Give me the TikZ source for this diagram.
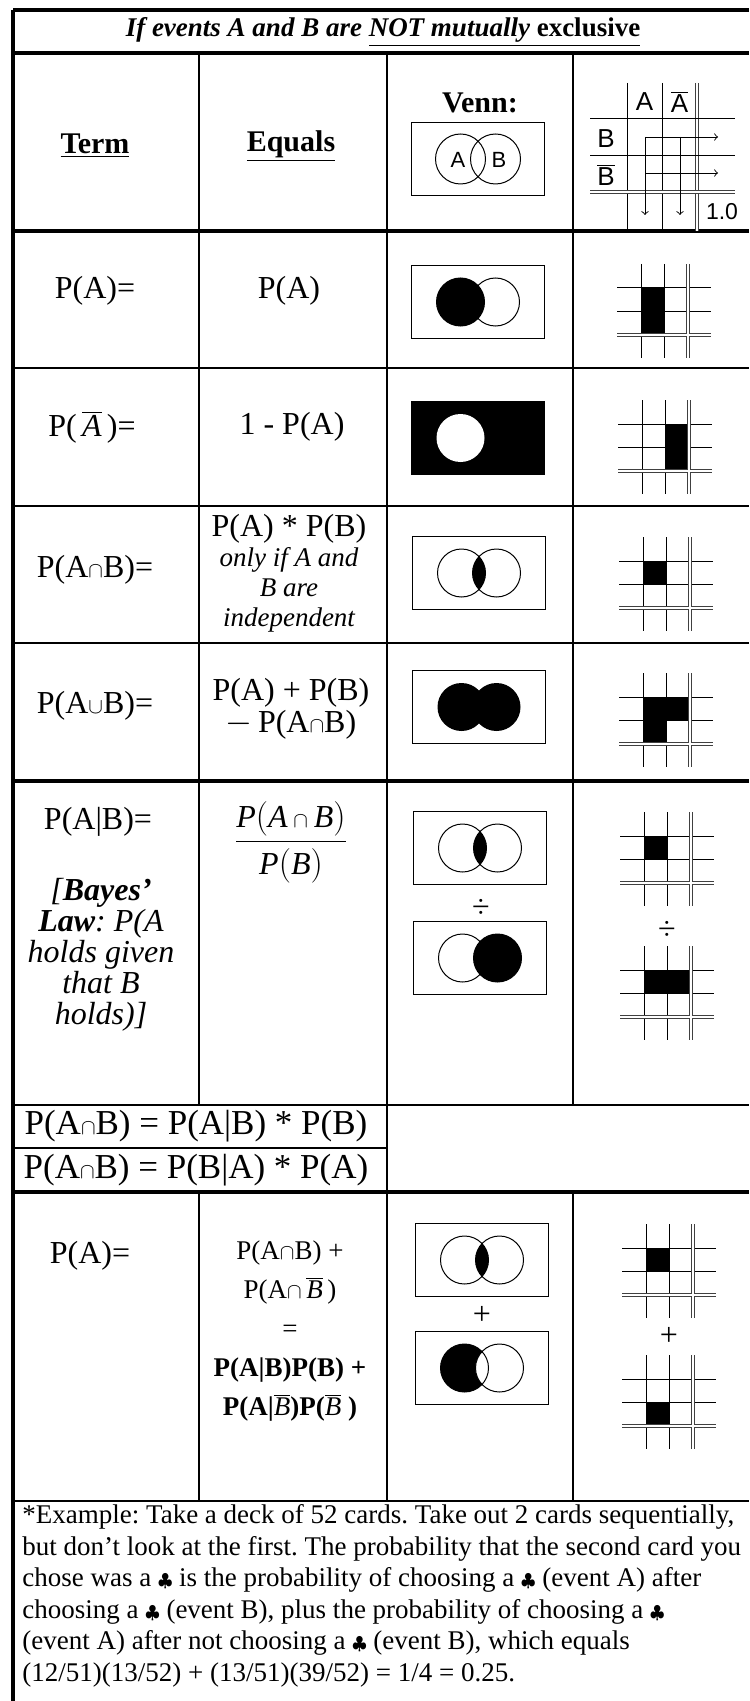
\documentclass[tikz,border=0pt]{standalone}
\usepackage{fontspec}
\setmainfont{Liberation Serif}
\newfontfamily\gridfont{Liberation Sans}
\usetikzlibrary{positioning}
\newcommand{\isect}{{\fontsize{11}{11}\selectfont$\cap$}}
\newcommand{\union}{{\fontsize{11}{11}\selectfont$\cup$}}

\begin{document}
\frenchspacing
\begin{tikzpicture}[
    x=0.5pt, y=-0.5pt,
    txt/.style={align=center, inner sep=0pt, font=\fontsize{16}{16}\selectfont},
    note/.style={align=center, inner sep=0pt, font=\fontsize{13.5}{15}\selectfont\itshape},
    head/.style={inner sep=0pt, font=\fontsize{15}{18}\selectfont\bfseries},
    lbl/.style={inner sep=0pt, font=\fontsize{13}{13}\gridfont},
    rule/.style={line width=0.6pt},
    heavy/.style={line width=1.6pt},
    venn/.style={draw, line width=0.5pt},
    gline/.style={line width=0.5pt},
    dline/.style={draw=black!75, line width=0.45pt, double, double distance=0.7pt},
    sumarrow/.style={->, line width=0.45pt}
]
\useasboundingbox (0,0) rectangle (749,1701);

% Table rules
\draw[heavy] (13,10) -- (749,10);
\draw[heavy] (13,53) -- (749,53);
\draw[heavy] (13,231) -- (749,231);
\foreach \h in {368,506,643,1105,1501}
    \draw[rule] (13,\h) -- (749,\h);
\draw[heavy] (13,781) -- (749,781);
\draw[rule] (13,1148) -- (387,1148);
\draw[heavy] (13,1192) -- (749,1192);
\draw[line width=2pt] (13,10) -- (13,1701);
\foreach \v in {199,387,573} {
    \draw[rule] (\v,53) -- (\v,1105);
    \draw[rule] (\v,1192) -- (\v,1501);
}
\draw[rule] (387,1105) -- (387,1192);

% Title and header
\node[inner sep=0pt, font=\fontsize{13.5}{15}\selectfont\bfseries\itshape] (title) at (383,32)
    {If events A and B are \underline{NOT mutually \upshape exclusive}};
\node[head] (term) at (95,146) {\underline{Term}};
\node[head] (equals) at (291,146) {\underline{Equals}};
\node[head] (vennlbl) at (480,103) {Venn:};

% Header Venn
\draw[venn] (411.5,122.5) rectangle (544.5,195.5);
\draw[venn] (460.5,159) circle[radius=12.5pt] (495.5,159) circle[radius=12.5pt];
\node[lbl, font=\fontsize{11}{11}\gridfont] (vA) at (458,160) {A};
\node[lbl, font=\fontsize{11}{11}\gridfont] (vB) at (499,160) {B};

% Header grid
\foreach \v in {627,662}
    \draw[gline] (\v,83) -- (\v,231);
\draw[dline] (697,83) -- (697,231);
\foreach \h in {119,156}
    \draw[gline] (590,\h) -- (735,\h);
\draw[dline] (590,192) -- (735,192);
\node[lbl] (gA) at (644.5,102) {A};
\node[lbl] (gnA) at (679.5,102) {$\overline{\hbox{A}}$};
\node[lbl] (gB) at (606,139) {B};
\node[lbl] (gnB) at (606,175) {$\overline{\hbox{B}}$};
\node[lbl, font=\fontsize{11.5}{11.5}\gridfont] (gtot) at (722,212) {1.0};
\coordinate (rowB) at (645,137);
\coordinate (rowBend) at (718,137);
\coordinate (rownB) at (645,173);
\coordinate (rownBend) at (718,173);
\coordinate (colA) at (645,137);
\coordinate (colAend) at (645,215);
\coordinate (colnA) at (680,137);
\coordinate (colnAend) at (680,215);
\draw[sumarrow] (rowB) -- (rowBend);
\draw[sumarrow] (rownB) -- (rownBend);
\draw[sumarrow] (colA) -- (colAend);
\draw[sumarrow] (colnA) -- (colnAend);

% Terms
\node[txt] (pa-term) at (95,291) {P(A)=};
\node[txt] (pna-term) at (92,427) {P(\,$\overline{\hbox{\itshape A}}$\,)=};
\node[txt] (pab-term) at (95,570) {P(A\isect B)=};
\node[txt] (puab-term) at (95,706) {P(A\union B)=};
\node[txt] (bayes-term) at (98,822) {P(A|B)=};
\node[align=center, inner sep=0pt, font=\fontsize{16}{15.5}\selectfont\itshape] (bayes-note) at (101,955)
    {[\textbf{Bayes'}\\ \textbf{Law}: P(A\\ holds given\\ that B\\ holds)]};
\node[txt] (tot-term) at (90,1256) {P(A)=};

% Equals
\node[txt] (pa-eq) at (289,291) {P(A)};
\node[txt] (pna-eq) at (292,427) {1 - P(A)};
\node[txt] (pab-eq) at (289,529) {P(A) * P(B)};
\node[note] (pab-note) at (289,590) {only if A and\\ B are\\ independent};
\node[txt] (puab-eq) at (291,709) {P(A) + P(B)\\ $-$\,P(A\isect B)};
\node[txt] (bayes-eq) at (291,842)
    {$\displaystyle\frac{\textit{P}\bigl(\textit{A}\,\hbox{\isect}\,\textit{B}\bigr)}{\textit{P}\bigl(\textit{B}\bigr)}$};
\node[txt, font=\fontsize{13.5}{19.5}\selectfont] (tot-eq) at (290,1331)
    {P(A\isect B) +\\ P(A\isect\,$\overline{\hbox{\itshape B}}$\,)\\ =\\
     \textbf{P(A|B)P(B) +}\\ \textbf{P(A|}$\overline{\hbox{\itshape B}}$\textbf{)P(}$\overline{\hbox{\itshape B}}$\textbf{\ )}};

% Product rule rows
\node[txt, font=\fontsize{17.5}{17.5}\selectfont] (mult1) at (196,1126) {P(A\isect B) = P(A|B) * P(B)};
\node[txt, font=\fontsize{17.5}{17.5}\selectfont] (mult2) at (196,1170) {P(A\isect B) = P(B|A) * P(A)};

% Venn diagrams
\foreach \cx/\cy in {478/302, 478/438, 479/573, 479/707, 480/848, 480/958, 482/1260, 482/1368}
    \draw[venn] (\cx-66.5,\cy-36.5) rectangle (\cx+66.5,\cy+36.5);
% P(A)
\fill (460.5,302) circle[radius=12pt];
\draw[venn] (460.5,302) circle[radius=12pt] (495.5,302) circle[radius=12pt];
% P(not A)
\fill (411.5,401.5) rectangle (544.5,474.5);
\fill[white] (460.5,438) circle[radius=12pt];
% P(A and B)
\foreach \cx/\cy in {479/573, 480/848, 482/1260} {
    \begin{scope}
        \clip (\cx-17.5,\cy) circle[radius=12pt];
        \fill (\cx+17.5,\cy) circle[radius=12pt];
    \end{scope}
    \draw[venn] (\cx-17.5,\cy) circle[radius=12pt] (\cx+17.5,\cy) circle[radius=12pt];
}
% P(A or B)
\fill (461.5,707) circle[radius=12pt] (496.5,707) circle[radius=12pt];
% P(B)
\fill (497.5,958) circle[radius=12pt];
\draw[venn] (462.5,958) circle[radius=12pt] (497.5,958) circle[radius=12pt];
% P(A and not B)
\fill (464.5,1368) circle[radius=12pt];
\fill[white] (499.5,1368) circle[radius=12pt];
\draw[venn] (464.5,1368) circle[radius=12pt] (499.5,1368) circle[radius=12pt];
\node[txt] (div-venn) at (481,908) {÷};
\node[txt] (plus-venn) at (482,1315) {+};

% Area grids
\foreach \gx/\gy/\cells in {641/288/{0/0,0/1}, 642/424/{1/0,1/1}, 643/561/{0/0}, 643/697/{0/0,1/0,0/1},
                            644/836/{0/0}, 644/970/{0/0,1/0}, 646/1248/{0/0}, 646/1379/{0/1}} {
    \foreach \c/\r in \cells
        \fill ({\gx+23.5*\c},{\gy+23.5*\r}) rectangle ++(23.5,23.5);
    \foreach \k in {0,1}
        \draw[gline] ({\gx+23.5*\k},\gy-24) -- ++(0,94) (\gx-24,{\gy+23.5*\k}) -- ++(94,0);
    \draw[dline] (\gx+47,\gy-24) -- ++(0,94) (\gx-24,\gy+47) -- ++(94,0);
}
\node[txt] (div-grid) at (667,930) {÷};
\node[txt] (plus-grid) at (669,1336) {+};

% Example
\node[anchor=north west, align=left, inner sep=0pt, font=\fontsize{13.5}{15.8}\selectfont] (example) at (22,1504)
    {*Example: Take a deck of 52 cards. Take out 2 cards sequentially,\\
     but don’t look at the first. The probability that the second card you\\
     chose was a {\small$\clubsuit$} is the probability of choosing a {\small$\clubsuit$} (event A) after\\
     choosing a {\small$\clubsuit$} (event B), plus the probability of choosing a {\small$\clubsuit$}\\
     (event A) after not choosing a {\small$\clubsuit$} (event B), which equals\\
     (12/51)(13/52) + (13/51)(39/52) = 1/4 = 0.25.};

\end{tikzpicture}
\end{document}
